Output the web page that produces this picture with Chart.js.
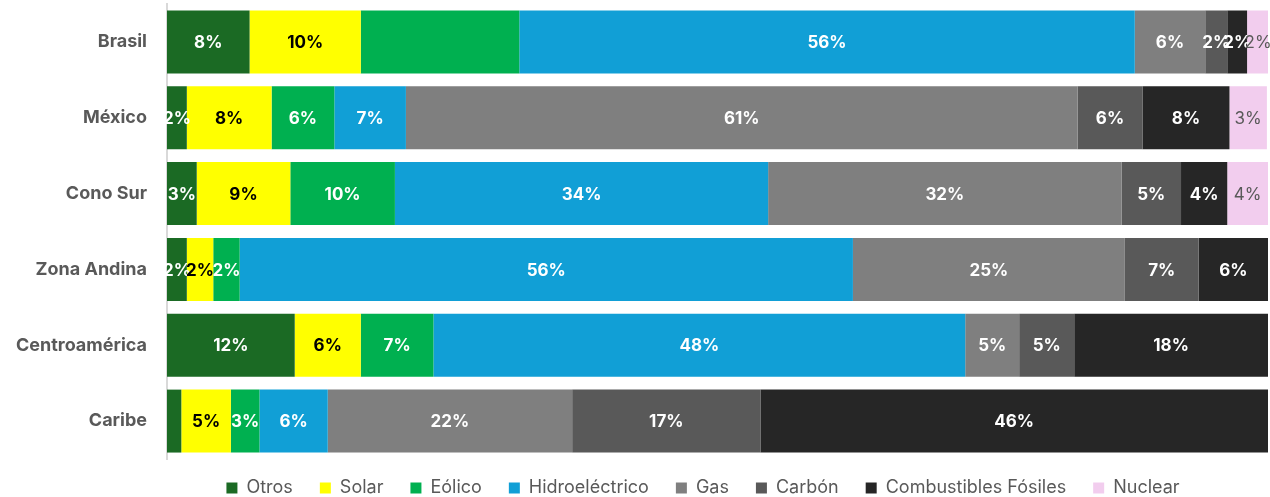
<!DOCTYPE html>
<html>
<head>
<meta charset="utf-8">
<script src="https://cdn.jsdelivr.net/npm/chart.js@4"></script>
<style>
  html, body { margin: 0; padding: 0; background: #fff; }
  #wrap { width: 1270px; height: 497px; }
</style>
</head>
<body>
<div id="wrap"><canvas id="myChart"></canvas></div>
<script>
var regiones = ['Brasil', 'México', 'Cono Sur', 'Zona Andina', 'Centroamérica', 'Caribe'];

var otros        = [7.5, 1.8, 2.7, 1.8, 11.6, 1.3];
var solar        = [10.1, 7.7, 8.5, 2.4, 6.0, 4.5];
var eolico       = [14.4, 5.7, 9.5, 2.4, 6.6, 2.6];
var hidro        = [55.9, 6.5, 33.9, 55.7, 48.3, 6.2];
var gas          = [6.4, 61.0, 32.1, 24.7, 4.9, 22.2];
var carbon       = [2.0, 5.9, 5.4, 6.7, 5.0, 17.1];
var combustibles = [1.8, 7.9, 4.2, 6.3, 17.6, 46.1];
var nuclear      = [2.0, 3.4, 3.7, 0, 0, 0];

// etiquetas que no aparecen en el grafico original (serie, region)
var ocultas = ['Eólico|Brasil', 'Otros|Caribe'];

var series = [
    { label: 'Otros', data: otros, color: '#1b6a24', txt: '#ffffff', bold: true },
    { label: 'Solar', data: solar, color: '#ffff00', txt: '#000000', bold: true },
    { label: 'Eólico', data: eolico, color: '#00b050', txt: '#ffffff', bold: true },
    { label: 'Hidroeléctrico', data: hidro, color: '#119fd6', txt: '#ffffff', bold: true },
    { label: 'Gas', data: gas, color: '#7f7f7f', txt: '#ffffff', bold: true },
    { label: 'Carbón', data: carbon, color: '#595959', txt: '#ffffff', bold: true },
    { label: 'Combustibles Fósiles', data: combustibles, color: '#262626', txt: '#ffffff', bold: true },
    { label: 'Nuclear', data: nuclear, color: '#f2cdee', txt: '#595959', bold: false }
];

var FONT = 'Inter, "Noto Sans", sans-serif';

var etiquetas = {
    id: 'etiquetas',
    beforeInit: function (chart) {
        // altura fija de la leyenda
        if (chart.legend) {
            var fitOrig = chart.legend.fit;
            chart.legend.fit = function () {
                fitOrig.call(this);
                this.height = 38;
            };
        }
    },
    afterLayout: function (chart) {
        // mover la leyenda: un poco arriba y centrada como en el original
        var lg = chart.legend;
        if (!lg) return;
        lg.top -= 7;
        lg.left += 69;
        lg.right += 69;
    },
    afterDatasetsDraw: function (chart) {
        var ctx = chart.ctx;
        ctx.save();
        ctx.textAlign = 'center';
        ctx.textBaseline = 'middle';
        chart.data.datasets.forEach(function (ds, i) {
            var meta = chart.getDatasetMeta(i);
            meta.data.forEach(function (bar, j) {
                var v = ds.data[j];
                if (!v) return;
                if (ocultas.indexOf(ds.label + '|' + regiones[j]) >= 0) return;
                var p = bar.getCenterPoint();
                ctx.font = (ds.bold ? 'bold ' : '') + '17px ' + FONT;
                ctx.fillStyle = ds.txt;
                ctx.fillText(Math.round(v) + '%', p.x, p.y + 1);
            });
        });
        ctx.restore();
    }
};

var ctx = document.getElementById('myChart').getContext('2d');
var myChart = new Chart(ctx, {
    type: 'bar',
    data: {
        labels: regiones,
        datasets: series.map(function (s) {
            return {
                label: s.label,
                data: s.data,
                backgroundColor: s.color,
                borderWidth: 0,
                txt: s.txt,
                bold: s.bold,
                barPercentage: 1,
                categoryPercentage: 0.83
            };
        })
    },
    plugins: [etiquetas],
    options: {
        indexAxis: 'y',
        responsive: true,
        maintainAspectRatio: false,
        animation: false,
        layout: { padding: { top: 4, right: 2, left: 0, bottom: 0 } },
        scales: {
            x: {
                stacked: true,
                min: 0,
                max: 100,
                display: false
            },
            y: {
                stacked: true,
                grid: { display: false },
                border: { display: true, color: '#d9d9d9', width: 2 },
                ticks: {
                    color: '#595959',
                    padding: 12,
                    font: { family: FONT, size: 18, weight: 'bold' }
                },
                afterFit: function (scale) {
                    scale.width = 167;
                    scale.paddingTop = 0;
                    scale.paddingBottom = 0;
                }
            }
        },
        plugins: {
            tooltip: { enabled: false },
            legend: {
                position: 'bottom',
                labels: {
                    color: '#595959',
                    boxWidth: 11,
                    boxHeight: 11,
                    padding: 27,
                    font: { family: FONT, size: 18 }
                }
            }
        }
    }
});
</script>
</body>
</html>
